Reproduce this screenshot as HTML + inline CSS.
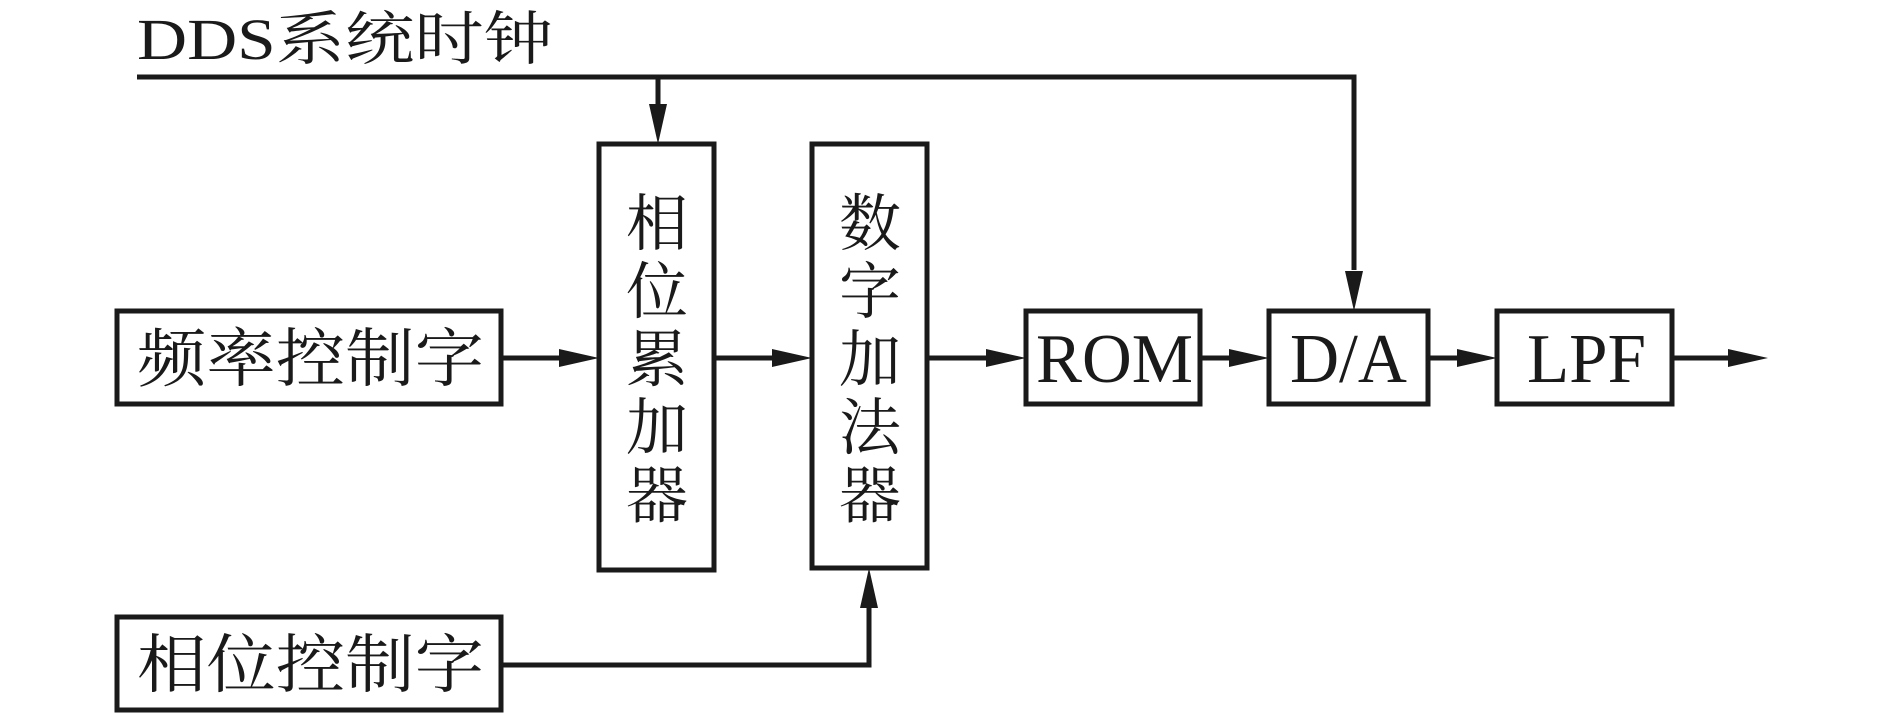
<!DOCTYPE html>
<html><head><meta charset="utf-8"><style>
html,body{margin:0;padding:0;background:#fff;}
svg{display:block}
text{font-family:"Liberation Serif","Noto Serif CJK SC",serif;fill:#1a1a1a}
</style></head><body>
<svg width="1886" height="713" viewBox="0 0 1886 713" xmlns="http://www.w3.org/2000/svg">
<g stroke="#1a1a1a" stroke-width="5" fill="none">
<polyline points="137,77 1354,77 1354,270"/>
<line x1="658" y1="77" x2="658" y2="110"/>
<rect x="599" y="144" width="115" height="426"/>
<rect x="812" y="144" width="115" height="424"/>
<rect x="117" y="311" width="384" height="93"/>
<rect x="117" y="617" width="384" height="93"/>
<rect x="1026" y="311" width="174" height="93"/>
<rect x="1269" y="311" width="159" height="93"/>
<rect x="1497" y="311" width="175" height="93"/>
<line x1="501" y1="358" x2="560" y2="358"/>
<line x1="714" y1="358" x2="772" y2="358"/>
<line x1="927" y1="358" x2="986" y2="358"/>
<line x1="1200" y1="358" x2="1229" y2="358"/>
<line x1="1428" y1="358" x2="1457" y2="358"/>
<line x1="1672" y1="358" x2="1728" y2="358"/>
<polyline points="501,665 869,665 869,605"/>
</g>
<g fill="#1a1a1a">
<polygon points="649,104 667,104 658,144"/>
<polygon points="1345,271 1363,271 1354,311"/>
<polygon points="559,349 559,367 599,358"/>
<polygon points="772,349 772,367 812,358"/>
<polygon points="986,349 986,367 1026,358"/>
<polygon points="1229,349 1229,367 1269,358"/>
<polygon points="1457,349 1457,367 1497,358"/>
<polygon points="1728,349 1728,367 1768,358"/>
<polygon points="860,608 878,608 869,568"/>
</g>
<text x="137" y="59" font-size="58" textLength="416" lengthAdjust="spacingAndGlyphs">DDS系统时钟</text>
<text x="137" y="381" font-size="64" textLength="347" lengthAdjust="spacingAndGlyphs">频率控制字</text>
<text x="137" y="687" font-size="64" textLength="347" lengthAdjust="spacingAndGlyphs">相位控制字</text>
<g font-size="62" text-anchor="middle">
<text x="657" y="245">相</text><text x="657" y="313">位</text><text x="657" y="381">累</text><text x="657" y="449">加</text><text x="657" y="517">器</text>
<text x="870" y="245">数</text><text x="870" y="313">字</text><text x="870" y="381">加</text><text x="870" y="449">法</text><text x="870" y="517">器</text>
</g>
<text x="1036" y="382" font-size="70" textLength="157" lengthAdjust="spacingAndGlyphs">ROM</text>
<text x="1290" y="382" font-size="70" textLength="117" lengthAdjust="spacingAndGlyphs">D/A</text>
<text x="1527" y="382" font-size="70" textLength="119" lengthAdjust="spacingAndGlyphs">LPF</text>
</svg>
</body></html>
